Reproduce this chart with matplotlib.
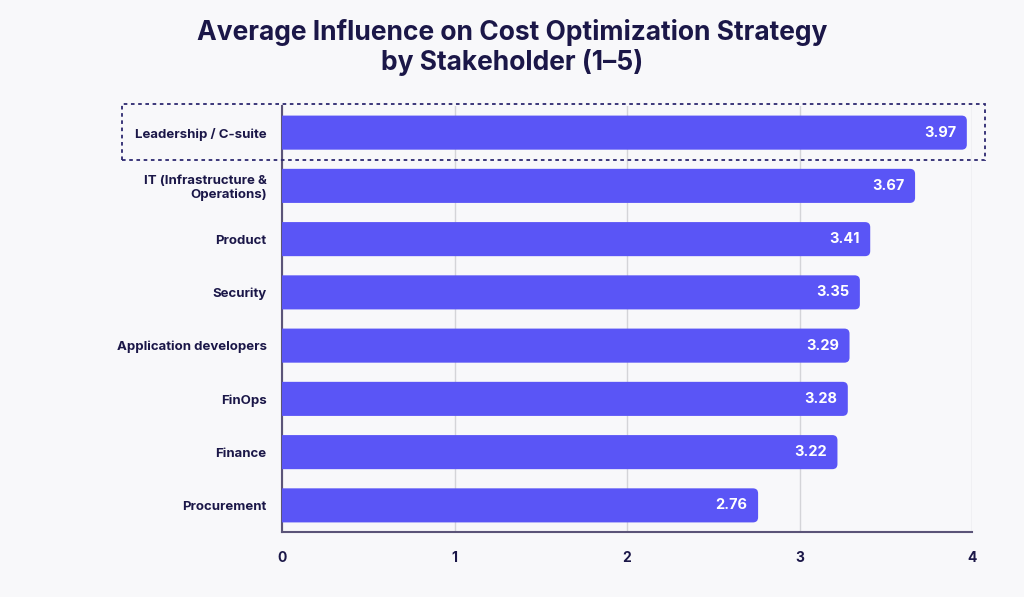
import matplotlib
matplotlib.use("Agg")
import matplotlib.pyplot as plt
from matplotlib.patches import FancyBboxPatch, Rectangle

categories = ["Leadership / C-suite", "IT (Infrastructure &\nOperations)", "Product", "Security",
              "Application developers", "FinOps", "Finance", "Procurement"]
values = [3.97, 3.67, 3.41, 3.35, 3.29, 3.28, 3.22, 2.76]
xticks = [0, 1, 2, 3, 4]
title = "Average Influence on Cost Optimization Strategy\nby Stakeholder (1–5)"

BG = "#f8f8fa"
BAR = "#5a55f6"
NAVY = "#1b1748"

plt.rcParams['font.family'] = ['Inter', 'DejaVu Sans']

fig = plt.figure(figsize=(10.24, 5.97), dpi=100, facecolor=BG)
ax = fig.add_axes([282/1024, 1-532/597, 690/1024, (532-106)/597])
ax.set_facecolor(BG)

ypos = list(range(len(categories)))
bars = ax.barh(ypos, values, height=0.64, color=BAR, alpha=0)
for b, v in zip(bars, values):
    x0, y0 = b.get_x(), b.get_y()
    w, h = b.get_width(), b.get_height()
    p = FancyBboxPatch((x0 - 0.1, y0), w + 0.1, h,
                       boxstyle="round,pad=0,rounding_size=0.03",
                       mutation_aspect=3.2, facecolor=BAR, edgecolor="none",
                       zorder=3, clip_on=True)
    ax.add_patch(p)
    ax.text(v - 0.06, y0 + h / 2, f"{v:.2f}", ha="right", va="center",
            color="white", fontsize=10.5, fontweight="bold", zorder=4)

ax.set_xlim(0, 4)
ax.set_ylim(len(categories) - 0.5, -0.5)
ax.set_xticks(xticks)
ax.set_xticklabels([str(t) for t in xticks], fontsize=10, fontweight="bold", color=NAVY)
ax.set_yticks(ypos)
ax.set_yticklabels(categories, fontsize=9.5, fontweight="bold", color=NAVY, linespacing=1.1)
ax.tick_params(axis="both", length=0)
ax.tick_params(axis="x", pad=14)
ax.tick_params(axis="y", pad=11)
ax.grid(axis="x", color="#d4d4d8", linewidth=1, zorder=0)
for s in ["top", "right"]:
    ax.spines[s].set_visible(False)
for s in ["left", "bottom"]:
    ax.spines[s].set_color("#5b5478")
    ax.spines[s].set_linewidth(1.5)

# dotted highlight box around first row
fig.patches.append(Rectangle((122/1024, 1-160/597), (985-122)/1024, (160-104)/597,
                             transform=fig.transFigure, fill=False, edgecolor="#2d2870",
                             linewidth=1.3, linestyle=(0, (2, 2)), zorder=5))

fig.text(0.5, 1-19/597, title, ha="center", va="top", fontsize=19,
         fontweight="bold", color=NAVY, linespacing=1.15)

fig.savefig("out.png", dpi=100, facecolor=BG)
